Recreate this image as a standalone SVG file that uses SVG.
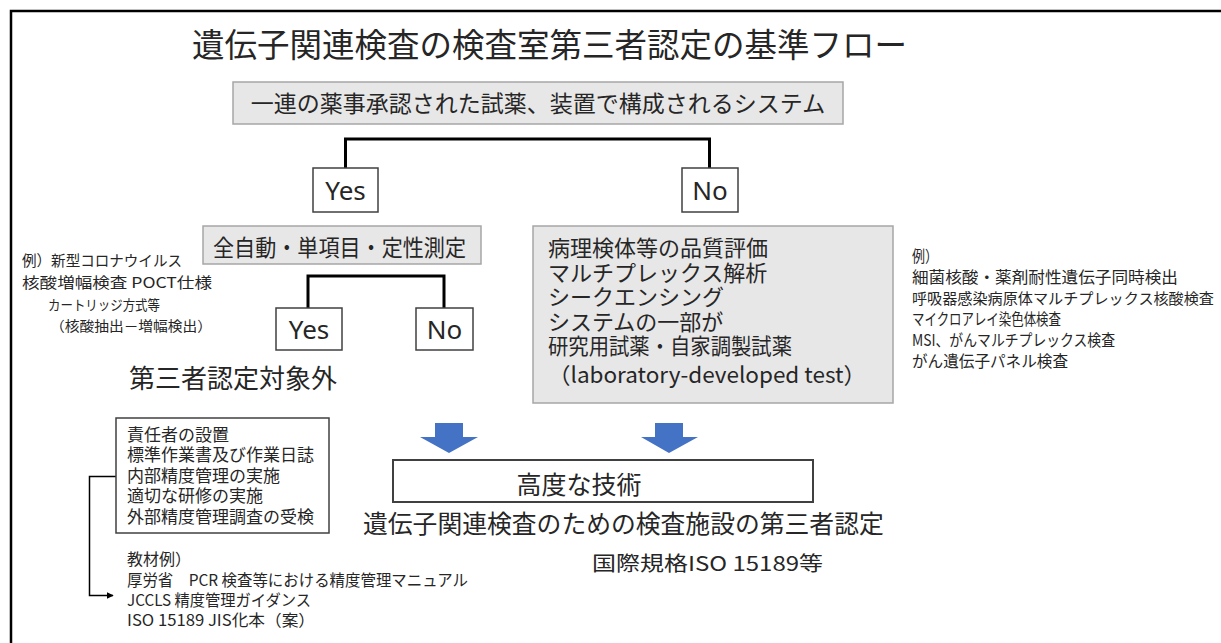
<svg xmlns="http://www.w3.org/2000/svg" width="1221" height="643" viewBox="0 0 1221 643">
<defs>
<style>
.jp{font-family:"Noto Sans CJK JP","Noto Sans",sans-serif;fill:#262626}
.lat{font-family:"Noto Sans","Open Sans",sans-serif;fill:#262626}
.gray{fill:#e8e7e7;stroke:#a6a6a6;stroke-width:1.5}
.wbox{fill:#ffffff;stroke:#404040;stroke-width:1.5}
.tree{fill:none;stroke:#000;stroke-width:3}
.thin{fill:none;stroke:#000;stroke-width:1.5}
.blue{fill:#4472c4}
</style>
<marker id="ah" viewBox="0 0 10 10" refX="9" refY="5" markerWidth="7" markerHeight="7" markerUnits="userSpaceOnUse" orient="auto">
<path d="M0,0 L10,5 L0,10 z" fill="#000"/>
</marker>
</defs>
<rect width="1221" height="643" fill="#fff"/>
<path d="M11,643 V11 H1221" fill="none" stroke="#000" stroke-width="2.5"/>

<g id="title"><text class="jp" x="192" y="57" font-size="32.5">遺伝子関連検査の検査室第三者認定の基準フロー</text></g>

<g id="connectors">
<path class="tree" d="M345.5,168 V139 H709.5 V168"/>
<path class="tree" d="M308,308 V276 H444 V308"/>
<path class="thin" d="M116,476.5 H89.5 V595.5 H113" marker-end="url(#ah)"/>
<path class="blue" d="M435,423 H463 V437 H478 L449,453 L420,437 H435 Z"/>
<path class="blue" d="M655,423 H683 V437 H698 L669,453 L641,437 H655 Z"/>
</g>

<g id="system">
<rect class="gray" x="233" y="82" width="610" height="42"/>
<text class="jp" x="538" y="112" font-size="23" text-anchor="middle">一連の薬事承認された試薬、装置で構成されるシステム</text>
</g>

<g id="yes1">
<rect class="wbox" x="313" y="168" width="65" height="44"/>
<text class="lat" x="345.5" y="199.5" font-size="26" text-anchor="middle">Yes</text>
</g>
<g id="no1">
<rect class="wbox" x="682" y="168" width="56" height="44"/>
<text class="lat" x="710" y="199.5" font-size="26" text-anchor="middle">No</text>
</g>

<g id="auto">
<rect class="gray" x="203" y="226" width="278" height="38"/>
<text class="jp" x="213" y="255.5" font-size="23" textLength="253" lengthAdjust="spacingAndGlyphs">全自動・単項目・定性測定</text>
</g>

<g id="yes2">
<rect class="wbox" x="276" y="308" width="66" height="42"/>
<text class="lat" x="309" y="338.5" font-size="26" text-anchor="middle">Yes</text>
</g>
<g id="no2">
<rect class="wbox" x="416" y="308" width="57" height="42"/>
<text class="lat" x="444.5" y="338.5" font-size="26" text-anchor="middle">No</text>
</g>

<g id="excluded"><text class="jp" x="129" y="388" font-size="26">第三者認定対象外</text></g>

<g id="example-left">
<text class="jp" font-size="15">
<tspan x="22" y="266" textLength="160" lengthAdjust="spacingAndGlyphs">例）新型コロナウイルス</tspan>
<tspan x="22" y="288" textLength="190" lengthAdjust="spacingAndGlyphs">核酸増幅検査 POCT仕様</tspan>
<tspan x="48" y="310" font-size="14" textLength="112" lengthAdjust="spacingAndGlyphs">カートリッジ方式等</tspan>
<tspan x="50" y="331" font-size="14" textLength="162" lengthAdjust="spacingAndGlyphs">（核酸抽出－増幅検出）</tspan>
</text>
</g>

<g id="advanced-list">
<rect class="gray" x="533" y="226" width="360" height="177"/>
<text class="jp" font-size="22">
<tspan x="548" y="256">病理検体等の品質評価</tspan>
<tspan x="548" y="281">マルチプレックス解析</tspan>
<tspan x="548" y="305">シークエンシング</tspan>
<tspan x="548" y="330">システムの一部が</tspan>
<tspan x="548" y="354" textLength="244" lengthAdjust="spacingAndGlyphs">研究用試薬・自家調製試薬</tspan>
<tspan x="548" y="383" textLength="318" lengthAdjust="spacingAndGlyphs">（laboratory-developed test）</tspan>
</text>
</g>

<g id="example-right">
<text class="jp" font-size="16">
<tspan x="912" y="262" textLength="26" lengthAdjust="spacingAndGlyphs">例）</tspan>
<tspan x="912" y="283" textLength="266" lengthAdjust="spacingAndGlyphs">細菌核酸・薬剤耐性遺伝子同時検出</tspan>
<tspan x="912" y="304" font-size="15" textLength="302" lengthAdjust="spacingAndGlyphs">呼吸器感染病原体マルチプレックス核酸検査</tspan>
<tspan x="912" y="325" textLength="149" lengthAdjust="spacingAndGlyphs">マイクロアレイ染色体検査</tspan>
<tspan x="912" y="346" textLength="203" lengthAdjust="spacingAndGlyphs">MSI、がんマルチプレックス検査</tspan>
<tspan x="912" y="367" textLength="156" lengthAdjust="spacingAndGlyphs">がん遺伝子パネル検査</tspan>
</text>
</g>

<g id="requirements">
<rect class="wbox" x="116" y="418" width="213" height="115"/>
<text class="jp" font-size="17">
<tspan x="127" y="440.5">責任者の設置</tspan>
<tspan x="127" y="461">標準作業書及び作業日誌</tspan>
<tspan x="127" y="481.5">内部精度管理の実施</tspan>
<tspan x="127" y="502">適切な研修の実施</tspan>
<tspan x="127" y="522.5">外部精度管理調査の受検</tspan>
</text>
</g>

<g id="materials">
<text class="jp" font-size="16">
<tspan x="127" y="565">教材例）</tspan>
<tspan x="127" y="586" textLength="341" lengthAdjust="spacingAndGlyphs">厚労省　PCR 検査等における精度管理マニュアル</tspan>
<tspan x="127" y="606" textLength="184" lengthAdjust="spacingAndGlyphs">JCCLS 精度管理ガイダンス</tspan>
<tspan x="127" y="626" textLength="188" lengthAdjust="spacingAndGlyphs">ISO 15189 JIS化本（案）</tspan>
</text>
</g>

<g id="advanced">
<rect x="393" y="460" width="420" height="42" fill="#fff" stroke="#404040" stroke-width="2"/>
<text class="jp" x="579" y="493.5" font-size="25" text-anchor="middle">高度な技術</text>
</g>

<g id="accreditation">
<text class="jp" x="363" y="532.5" font-size="24.8">遺伝子関連検査のための検査施設の第三者認定</text>
<text class="jp" x="592" y="571" font-size="20" textLength="231" lengthAdjust="spacingAndGlyphs">国際規格ISO 15189等</text>
</g>
</svg>
